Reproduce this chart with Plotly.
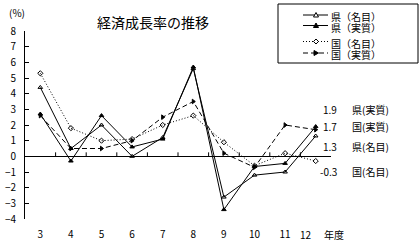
import plotly.graph_objects as go

# ---------------- data ----------------
years = [3, 4, 5, 6, 7, 8, 9, 10, 11, 12]
year_labels = ["3", "4", "5", "6", "7", "8", "9", "10", "11", "12"]
ken_nominal = [4.4, 0.5, 2.0, 0.0, 1.2, 5.6, -2.6, -1.2, -1.0, 1.3]
ken_real = [2.7, -0.3, 2.6, 0.6, 1.1, 5.7, -3.4, -0.65, -0.45, 1.9]
kuni_nominal = [5.3, 1.8, 1.0, 1.1, 2.0, 2.6, 0.9, -0.6, 0.2, -0.3]
kuni_real = [2.6, 0.5, 0.5, 1.0, 2.5, 3.5, 0.2, -0.7, 2.0, 1.7]
series_names = ["県（名目）", "県（実質）", "国（名目）", "国（実質）"]
end_values = ["1.9", "1.7", "1.3", "-0.3"]
end_labels = ["県(実質)", "国(実質)", "県(名目)", "国(名目)"]
y_ticks = list(range(-4, 9))

# ---------------- layout geometry (pixels) ----------------
W, H = 420, 247
ML, MR, MT, MB = 25, 89, 31, 28
PW, PH = W - ML - MR, H - MT - MB
FONT = "Noto Sans CJK JP, Noto Sans, sans-serif"
TXT_OFF = 1.5  # compensate CJK font box offset


def px(x):
    return (x - ML) / PW


def py(y):
    return (H - MB - y) / PH


def ty(y):
    return py(y + TXT_OFF)


styles = [
    dict(dash="solid", symbol="triangle-up-open", size=4,
         path="M-2.5,-2L2.5,-2L0,2.5Z", fill="white"),
    dict(dash="solid", symbol="triangle-up", size=4,
         path="M-2.5,-2L2.5,-2L0,2.5Z", fill="black"),
    dict(dash="1px,2px", symbol="diamond-open", size=4,
         path="M0,2.5L2.5,0L0,-2.5L-2.5,0Z", fill="white"),
    dict(dash="5px,3px", symbol="triangle-right", size=4,
         path="M-2,2.5L2.5,0L-2,-2.5Z", fill="black"),
]
all_series = [ken_nominal, ken_real, kuni_nominal, kuni_real]

fig = go.Figure()
for name, vals, st in zip(series_names, all_series, styles):
    fig.add_trace(go.Scatter(
        x=years, y=vals, name=name, mode="lines+markers",
        line=dict(color="black", width=1, dash=st["dash"]),
        marker=dict(symbol=st["symbol"], size=st["size"], color="black",
                    line=dict(color="black", width=1)),
        showlegend=False, cliponaxis=False,
    ))

shapes = [dict(type="rect", xref="paper", yref="paper",
               x0=px(278), x1=px(418), y0=py(63), y1=py(4),
               line=dict(color="black", width=1))]

# hand-drawn legend: sample lines + marker glyphs + labels
legend_rows = [15, 25.5, 41.5, 53]
for st, ry in zip(styles, legend_rows):
    shapes.append(dict(type="line", xref="paper", yref="paper",
                       x0=px(303), x1=px(328), y0=py(ry), y1=py(ry),
                       line=dict(color="black", width=1, dash=st["dash"])))
    shapes.append(dict(type="path", xref="paper", yref="paper",
                       xsizemode="pixel", ysizemode="pixel",
                       xanchor=px(316), yanchor=py(ry), path=st["path"],
                       fillcolor=st["fill"], line=dict(color="black", width=1)))

annotations = []
for name, ry in zip(series_names, legend_rows):
    annotations.append(dict(
        x=px(329), y=ty(ry), xref="paper", yref="paper", text=name,
        showarrow=False, xanchor="left", yanchor="middle",
        font=dict(size=10, family=FONT, color="black")))

for v, lab, ry in zip(end_values, end_labels, [108, 125, 145, 170]):
    annotations.append(dict(
        x=px(339), y=ty(ry), xref="paper", yref="paper", text=v,
        showarrow=False, xanchor="right", yanchor="middle",
        font=dict(size=10, family=FONT, color="black")))
    annotations.append(dict(
        x=px(350), y=ty(ry), xref="paper", yref="paper", text=lab,
        showarrow=False, xanchor="left", yanchor="middle",
        font=dict(size=10, family=FONT, color="black")))

annotations += [
    dict(x=px(153), y=ty(21), xref="paper", yref="paper", text="経済成長率の推移",
         showarrow=False, xanchor="center", yanchor="middle",
         font=dict(size=14, family=FONT, color="black")),
    dict(x=px(17), y=ty(11), xref="paper", yref="paper", text="(%)",
         showarrow=False, xanchor="center", yanchor="middle",
         font=dict(size=10, family=FONT, color="black")),
    dict(x=px(306), y=ty(233), xref="paper", yref="paper", text=year_labels[-1],
         showarrow=False, xanchor="center", yanchor="middle",
         font=dict(size=10, family=FONT, color="black")),
    dict(x=px(322), y=ty(233), xref="paper", yref="paper", text="年度",
         showarrow=False, xanchor="left", yanchor="middle",
         font=dict(size=10, family=FONT, color="black")),
]

# small tick marks on the zero line between categories
for k in years[:-1]:
    shapes.append(dict(type="line", xref="x", yref="y", x0=k + 0.5, x1=k + 0.5,
                       ysizemode="pixel", yanchor=0, y0=0, y1=4,
                       line=dict(color="black", width=1)))

fig.update_layout(
    width=W, height=H,
    margin=dict(l=ML, r=MR, t=MT, b=MB, pad=0, autoexpand=False),
    paper_bgcolor="white", plot_bgcolor="white",
    font=dict(family=FONT, size=10, color="black"),
    xaxis=dict(range=[2.5, 12.5], showgrid=False, zeroline=False, showline=False,
               tickvals=years[:-1], ticktext=year_labels[:-1], ticks="",
               ticklabelstandoff=8, tickfont=dict(size=10), automargin=False),
    yaxis=dict(range=[-4, 8], tickvals=y_ticks, showgrid=False, zeroline=True,
               zerolinecolor="black", zerolinewidth=1, showline=True,
               linecolor="black", linewidth=1, ticks="inside", ticklen=4,
               tickcolor="black", ticklabelstandoff=6, tickfont=dict(size=10),
               automargin=False),
    annotations=annotations, shapes=shapes, showlegend=False,
)

fig.write_html("out.html")
